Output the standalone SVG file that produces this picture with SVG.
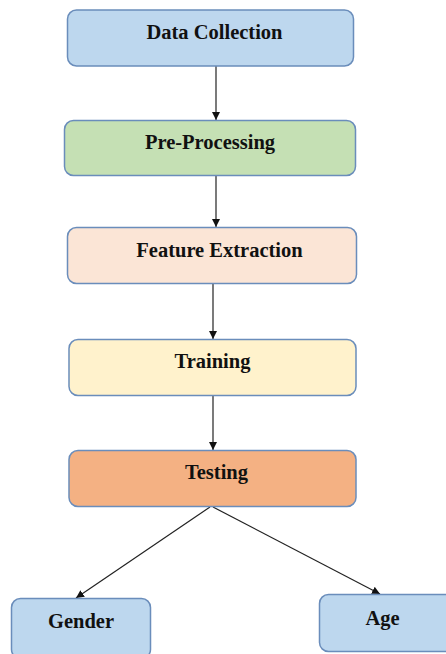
<svg xmlns="http://www.w3.org/2000/svg" width="446" height="654" viewBox="0 0 446 654">
<defs>
<style>
.box{stroke:#6A8DBB;stroke-width:1.5}
.lbl{font-family:"Liberation Serif","Times New Roman",serif;font-weight:bold;font-size:20.5px;fill:#111;text-anchor:middle}
.conn{stroke:#222;stroke-width:1.2;fill:none}
</style>
<marker id="ah" viewBox="0 0 10 10" refX="10" refY="5" markerWidth="8" markerHeight="8" markerUnits="userSpaceOnUse" orient="auto">
<path d="M0,0 L10,5 L0,10 Z" fill="#111"/>
</marker>
</defs>
<rect width="446" height="654" fill="#fff"/>
<g id="connectors">
<line class="conn" x1="216" y1="66" x2="216" y2="120" marker-end="url(#ah)"/>
<line class="conn" x1="216" y1="175" x2="216" y2="227" marker-end="url(#ah)"/>
<line class="conn" x1="213" y1="284" x2="213" y2="339" marker-end="url(#ah)"/>
<line class="conn" x1="213" y1="396" x2="213" y2="450" marker-end="url(#ah)"/>
<line class="conn" x1="210" y1="507" x2="76" y2="598" marker-end="url(#ah)"/>
<line class="conn" x1="213" y1="507" x2="380" y2="594" marker-end="url(#ah)"/>
</g>
<g id="data-collection">
<rect class="box" x="67.5" y="10" width="286" height="56" rx="9" fill="#BDD7EE"/>
<text class="lbl" x="214.5" y="39">Data Collection</text>
</g>
<g id="pre-processing">
<rect class="box" x="64.5" y="120.5" width="291" height="55" rx="9" fill="#C5E0B4"/>
<text class="lbl" x="210" y="149">Pre-Processing</text>
</g>
<g id="feature-extraction">
<rect class="box" x="67.5" y="227.5" width="289" height="56" rx="9" fill="#FBE5D6"/>
<text class="lbl" x="219.5" y="257">Feature Extraction</text>
</g>
<g id="training">
<rect class="box" x="69" y="339.5" width="287" height="56" rx="9" fill="#FFF2CC"/>
<text class="lbl" x="212.5" y="368">Training</text>
</g>
<g id="testing">
<rect class="box" x="69" y="450.5" width="287" height="56" rx="9" fill="#F4B183"/>
<text class="lbl" x="216.5" y="479">Testing</text>
</g>
<g id="gender">
<rect class="box" x="11.5" y="598.5" width="139" height="60" rx="9" fill="#BDD7EE"/>
<text class="lbl" x="81" y="628">Gender</text>
</g>
<g id="age">
<rect class="box" x="319.5" y="594.5" width="135" height="57" rx="9" fill="#BDD7EE"/>
<text class="lbl" x="382.5" y="625">Age</text>
</g>
</svg>
